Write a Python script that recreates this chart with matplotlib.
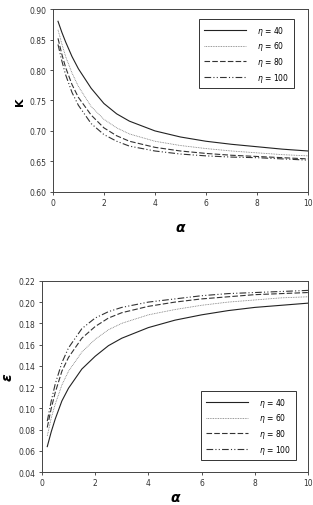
import matplotlib
matplotlib.use('Agg')
import matplotlib.pyplot as plt

# alpha sample points
alpha = [0.2, 0.35, 0.5, 0.75, 1, 1.5, 2, 2.5, 3, 4, 5, 6, 7, 8, 9, 10]
etas = [40, 60, 80, 100]

# K(alpha) for each eta
K40  = [0.880, 0.862, 0.846, 0.822, 0.802, 0.770, 0.745, 0.728, 0.716, 0.700, 0.690, 0.683, 0.678, 0.674, 0.670, 0.667]
K60  = [0.866, 0.843, 0.822, 0.795, 0.773, 0.740, 0.719, 0.705, 0.695, 0.683, 0.676, 0.671, 0.667, 0.664, 0.661, 0.659]
K80  = [0.852, 0.826, 0.804, 0.776, 0.755, 0.726, 0.705, 0.692, 0.683, 0.673, 0.667, 0.663, 0.660, 0.658, 0.656, 0.654]
K100 = [0.842, 0.815, 0.792, 0.763, 0.742, 0.712, 0.694, 0.683, 0.675, 0.667, 0.662, 0.659, 0.657, 0.656, 0.654, 0.652]

# epsilon(alpha) for each eta
E40  = [0.064, 0.078, 0.090, 0.107, 0.119, 0.137, 0.149, 0.159, 0.166, 0.176, 0.183, 0.188, 0.192, 0.195, 0.197, 0.199]
E60  = [0.074, 0.091, 0.104, 0.122, 0.135, 0.153, 0.165, 0.174, 0.180, 0.188, 0.193, 0.197, 0.200, 0.202, 0.204, 0.205]
E80  = [0.082, 0.100, 0.115, 0.135, 0.148, 0.166, 0.177, 0.185, 0.190, 0.196, 0.200, 0.203, 0.205, 0.207, 0.208, 0.209]
E100 = [0.088, 0.107, 0.123, 0.143, 0.157, 0.175, 0.185, 0.191, 0.195, 0.200, 0.203, 0.206, 0.208, 0.209, 0.210, 0.211]

styles = [
    dict(color='#222222', linestyle='-', linewidth=0.8),
    dict(color='#777777', linestyle=(0, (1, 1)), linewidth=0.6),
    dict(color='#333333', linestyle=(0, (5, 2)), linewidth=0.8),
    dict(color='#333333', linestyle=(0, (6, 2, 1, 2, 1, 2)), linewidth=0.8),
]

fig = plt.figure(figsize=(3.13, 5.06), dpi=100)
ax1 = fig.add_axes([0.169, 0.619, 0.815, 0.361])
ax2 = fig.add_axes([0.134, 0.065, 0.850, 0.378])

def style_axis(ax):
    ax.tick_params(labelsize=5.5, length=2.5, width=0.6, colors='#333333', pad=2)
    for s in ax.spines.values():
        s.set_linewidth(0.7)
        s.set_color('#444444')
    ax.set_xlim(0, 10)
    ax.set_xticks([0, 2, 4, 6, 8, 10])

greek = dict(fontsize=10, fontweight='bold', fontstyle='italic', family='DejaVu Sans')

for ys, eta, st in zip([K40, K60, K80, K100], etas, styles):
    ax1.plot(alpha, ys, label=r'$\eta$ = %d' % eta, **st)
style_axis(ax1)
ax1.set_ylim(0.60, 0.90)
ax1.set_yticks([0.60, 0.65, 0.70, 0.75, 0.80, 0.85, 0.90])
ax1.set_yticklabels(['%.2f' % v for v in ax1.get_yticks()])
ax1.set_ylabel('K', fontsize=8, fontweight='bold', labelpad=3)
ax1.set_xlabel('α', labelpad=9, **greek)
leg1 = ax1.legend(loc='upper right', bbox_to_anchor=(0.96, 0.967), fontsize=5.5,
                  handlelength=5.5, fancybox=False, edgecolor='#333333',
                  framealpha=1, borderpad=0.6, labelspacing=0.35, handletextpad=1.5)
leg1.get_frame().set_linewidth(0.7)

for ys, eta, st in zip([E40, E60, E80, E100], etas, styles):
    ax2.plot(alpha, ys, label=r'$\eta$ = %d' % eta, **st)
style_axis(ax2)
ax2.set_ylim(0.04, 0.22)
ax2.set_yticks([0.04, 0.06, 0.08, 0.10, 0.12, 0.14, 0.16, 0.18, 0.20, 0.22])
ax2.set_yticklabels(['%.2f' % v for v in ax2.get_yticks()])
ax2.set_ylabel('ε', labelpad=3, **greek)
ax2.set_xlabel('α', labelpad=2, **greek)
leg2 = ax2.legend(loc='lower right', bbox_to_anchor=(0.97, 0.042), fontsize=5.5,
                  handlelength=5.5, fancybox=False, edgecolor='#333333',
                  framealpha=1, borderpad=0.6, labelspacing=0.35, handletextpad=1.5)
leg2.get_frame().set_linewidth(0.7)

fig.savefig('out.png', dpi=100)
